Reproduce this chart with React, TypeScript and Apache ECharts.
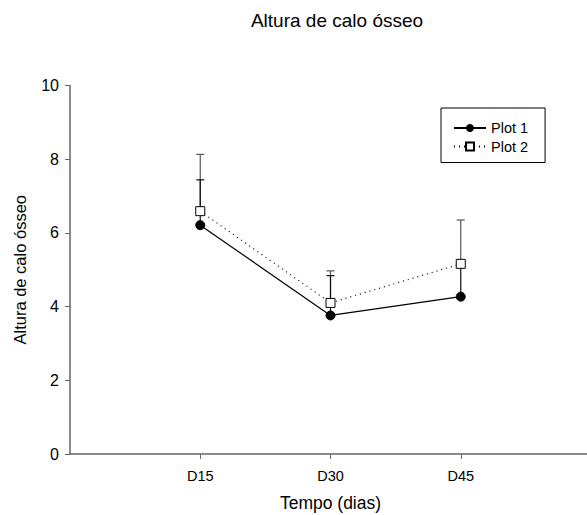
import React, { useEffect, useRef } from "react";
import * as echarts from "echarts";

const categories = ["D15", "D30", "D45"];
const xPositions = [1, 2, 3];
const plot1Values = [6.21, 3.76, 4.27];
const plot1Upper = [7.44, 4.84, 5.2];
const plot2Values = [6.59, 4.1, 5.16];
const plot2Upper = [8.13, 4.97, 6.35];
const yTicks = [0, 2, 4, 6, 8, 10];

const FONT = "'Liberation Sans', Arial, sans-serif";

function errorSeries(name: string, xs: number[], vals: number[], ups: number[], color: string) {
  return {
    type: "custom",
    name: name + " err",
    z: 1,
    silent: true,
    data: xs.map((x, i) => [x, vals[i], ups[i]]),
    renderItem: (params: any, api: any) => {
      const x = api.value(0);
      const p0 = api.coord([x, api.value(1)]);
      const p1 = api.coord([x, api.value(2)]);
      return {
        type: "group",
        children: [
          {
            type: "line",
            shape: { x1: p0[0], y1: p0[1], x2: p1[0], y2: p1[1] },
            style: { stroke: color, lineWidth: 1.2 },
          },
          {
            type: "line",
            shape: { x1: p1[0] - 4, y1: p1[1], x2: p1[0] + 4, y2: p1[1] },
            style: { stroke: color, lineWidth: 1.2 },
          },
        ],
      };
    },
  };
}

export default function App() {
  const ref = useRef<HTMLDivElement>(null);
  useEffect(() => {
    const chart = echarts.init(ref.current!, null, { renderer: "svg" });
    chart.setOption({
      animation: false,
      backgroundColor: "#fff",
      title: {
        text: "Altura de calo ósseo",
        left: 332,
        textAlign: "center",
        top: 6,
        textStyle: { fontFamily: FONT, fontSize: 19, fontWeight: "normal", color: "#000" },
      },
      legend: {
        left: 441,
        top: 108,
        orient: "vertical",
        data: ["Plot 1", "Plot 2"],
        itemWidth: 32,
        itemHeight: 10,
        itemGap: 3.5,
        padding: [12.5, 17, 8.5, 12],
        borderColor: "#000",
        borderWidth: 1,
        textStyle: { fontFamily: FONT, fontSize: 14.5, color: "#000" },
      },
      grid: {
        left: 70,
        top: 85.5,
        width: 521,
        height: 368.5,
        containLabel: false,
        outerBoundsMode: "none",
      },
      xAxis: {
        type: "value",
        min: 0,
        max: 4,
        interval: 1,
        name: "Tempo (dias)",
        nameLocation: "middle",
        nameGap: 40,
        nameTextStyle: { fontFamily: FONT, fontSize: 17.5, color: "#000" },
        axisLine: { lineStyle: { color: "#666", width: 1.5 } },
        axisTick: { show: true, length: 5, customValues: xPositions, lineStyle: { color: "#666" } },
        axisLabel: {
          customValues: xPositions,
          formatter: (v: number) => categories[xPositions.indexOf(v)] ?? "",
          fontFamily: FONT,
          fontSize: 14.5,
          color: "#000",
          margin: 14,
        },
        splitLine: { show: false },
      },
      yAxis: {
        type: "value",
        min: 0,
        max: 10,
        interval: 2,
        name: "Altura de calo ósseo",
        nameLocation: "middle",
        nameGap: 42,
        nameTextStyle: { fontFamily: FONT, fontSize: 16.5, color: "#000" },
        axisLine: { show: true, lineStyle: { color: "#666", width: 1.5 } },
        axisTick: { show: true, length: 5, customValues: yTicks, lineStyle: { color: "#666" } },
        axisLabel: { fontFamily: FONT, fontSize: 16, color: "#000", margin: 11 },
        splitLine: { show: false },
      },
      series: [
        errorSeries("Plot 2", xPositions, plot2Values, plot2Upper, "#555"),
        errorSeries("Plot 1", xPositions, plot1Values, plot1Upper, "#111"),
        {
          name: "Plot 1",
          type: "line",
          z: 3,
          data: xPositions.map((x, i) => [x, plot1Values[i]]),
          symbol: "circle",
          symbolSize: 9,
          showAllSymbol: true,
          itemStyle: { color: "#000", borderColor: "#000" },
          lineStyle: { color: "#000", width: 1.2, type: "solid" },
        },
        {
          name: "Plot 2",
          type: "line",
          z: 4,
          data: xPositions.map((x, i) => [x, plot2Values[i]]),
          symbol: "rect",
          symbolSize: 9,
          showAllSymbol: true,
          itemStyle: { color: "#fff", borderColor: "#000", borderWidth: 1 },
          lineStyle: { color: "#000", width: 1.2, type: [1, 4] },
        },
      ],
    });
    return () => chart.dispose();
  }, []);
  return (
    <div
      ref={ref}
      style={{ position: "fixed", left: 0, top: 0, width: 587, height: 515 }}
    />
  );
}
